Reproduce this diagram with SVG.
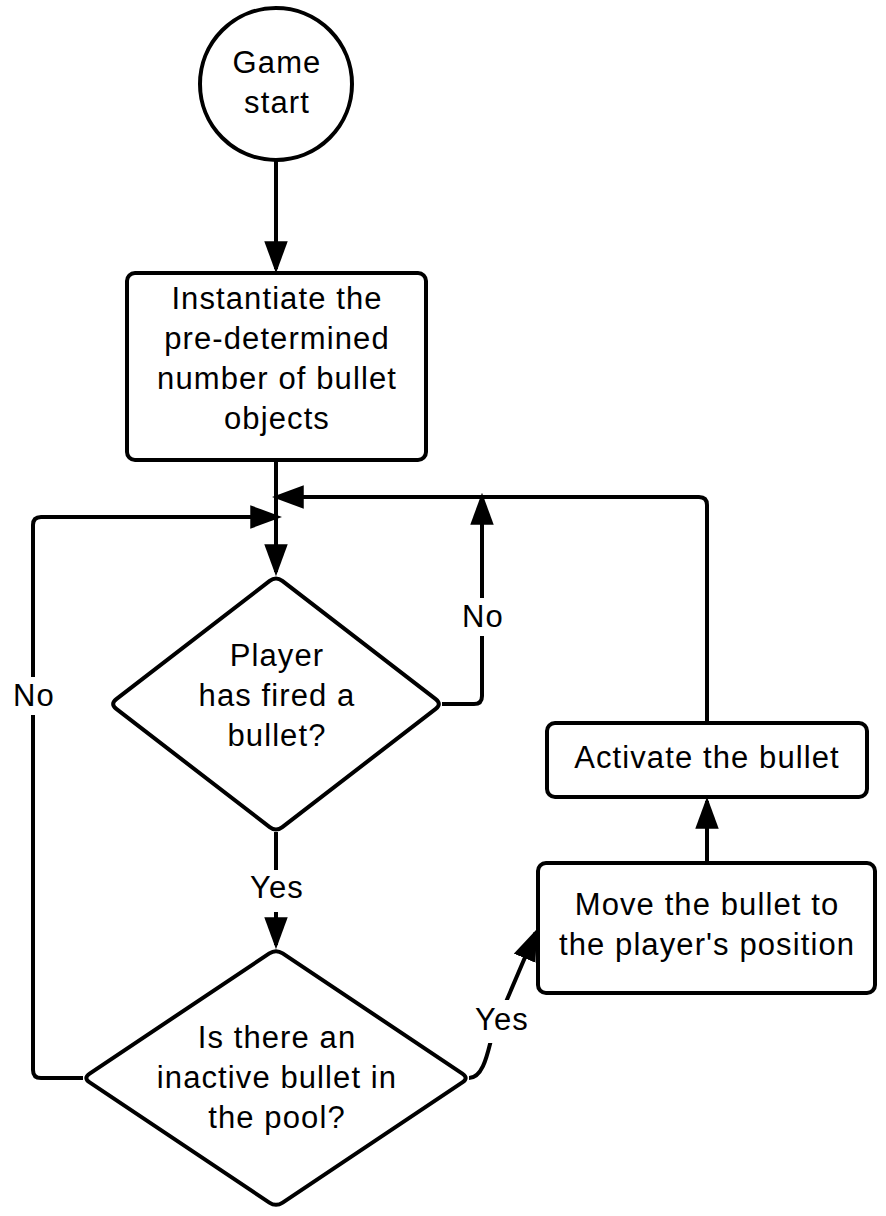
<svg xmlns="http://www.w3.org/2000/svg" width="886" height="1216" viewBox="0 0 886 1216">
<style>
.shape{fill:#fff;stroke:#000;stroke-width:4;stroke-linejoin:round}
.conn{fill:none;stroke:#000;stroke-width:4;stroke-linejoin:round}
.t{font-family:"Liberation Sans",Arial,sans-serif;font-size:31px;letter-spacing:1.1px;fill:#000;text-anchor:middle}
.lblbg{fill:#fff;stroke:none}
</style>
<defs>
<marker id="arr" markerUnits="userSpaceOnUse" markerWidth="32" markerHeight="24" viewBox="0 0 30 22" refX="26" refY="11" orient="auto">
<path d="M0,0 L30,11 L0,22 Z" fill="#000"/>
</marker>
</defs>
<rect width="886" height="1216" fill="#fff"/>
<g id="connectors">
<path class="conn" d="M276,160 L276,269" marker-end="url(#arr)"/>
<path class="conn" d="M276,460 L276,572" marker-end="url(#arr)"/>
<path class="conn" d="M442,704 L474,704 Q482,704 482,696 L482,497" marker-end="url(#arr)"/>
<path class="conn" d="M276,832 L276,945" marker-end="url(#arr)"/>
<path class="conn" d="M83,1078 L41,1078 Q33,1078 33,1070 L33,525 Q33,517 41,517 L278,517" marker-end="url(#arr)"/>
<path class="conn" d="M469,1078 C486,1078 489,1042 494,1030 L535.5,932.7" marker-end="url(#arr)"/>
<path class="conn" d="M707,863 L707,801" marker-end="url(#arr)"/>
<path class="conn" d="M707,723 L707,505 Q707,497 699,497 L276,497" marker-end="url(#arr)"/>
<g id="labels">
<rect class="lblbg" x="12" y="677" width="42" height="38"/>
<text class="t" x="34" y="706">No</text>
<rect class="lblbg" x="461" y="598" width="42" height="38"/>
<text class="t" x="483" y="627">No</text>
<rect class="lblbg" x="246" y="870" width="62" height="42"/>
<text class="t" x="277" y="898">Yes</text>
<rect class="lblbg" x="473" y="1000" width="58" height="43"/>
<text class="t" x="502" y="1030">Yes</text>
</g>
</g>
<g id="start">
<circle class="shape" cx="276" cy="84" r="76"/>
<text class="t" x="277" y="73">Game</text>
<text class="t" x="277" y="113">start</text>
</g>
<g id="instantiate">
<rect class="shape" x="127" y="273" width="299" height="187" rx="8"/>
<text class="t" x="277" y="309">Instantiate the</text>
<text class="t" x="277" y="349">pre-determined</text>
<text class="t" x="277" y="389">number of bullet</text>
<text class="t" x="277" y="429">objects</text>
</g>
<g id="fired">
<path class="shape" d="M269.7,580.9 Q276,576 282.3,580.9 L435.7,699.1 Q442,704 435.7,708.9 L282.3,827.1 Q276,832 269.7,827.1 L116.3,708.9 Q110,704 116.3,699.1 Z"/>
<text class="t" x="277" y="666">Player</text>
<text class="t" x="277" y="706">has fired a</text>
<text class="t" x="277" y="746">bullet?</text>
</g>
<g id="inactive">
<path class="shape" d="M269.35,953.45 Q276,949 282.65,953.45 L462.35,1073.55 Q469,1078 462.35,1082.45 L282.65,1202.55 Q276,1207 269.35,1202.55 L89.65,1082.45 Q83,1078 89.65,1073.55 Z"/>
<text class="t" x="277" y="1048">Is there an</text>
<text class="t" x="277" y="1088">inactive bullet in</text>
<text class="t" x="277" y="1128">the pool?</text>
</g>
<g id="move">
<rect class="shape" x="538" y="863" width="337" height="130" rx="8"/>
<text class="t" x="707" y="915">Move the bullet to</text>
<text class="t" x="707" y="955">the player's position</text>
</g>
<g id="activate">
<rect class="shape" x="547" y="723" width="320" height="74" rx="8"/>
<text class="t" x="707" y="768">Activate the bullet</text>
</g>
</svg>
